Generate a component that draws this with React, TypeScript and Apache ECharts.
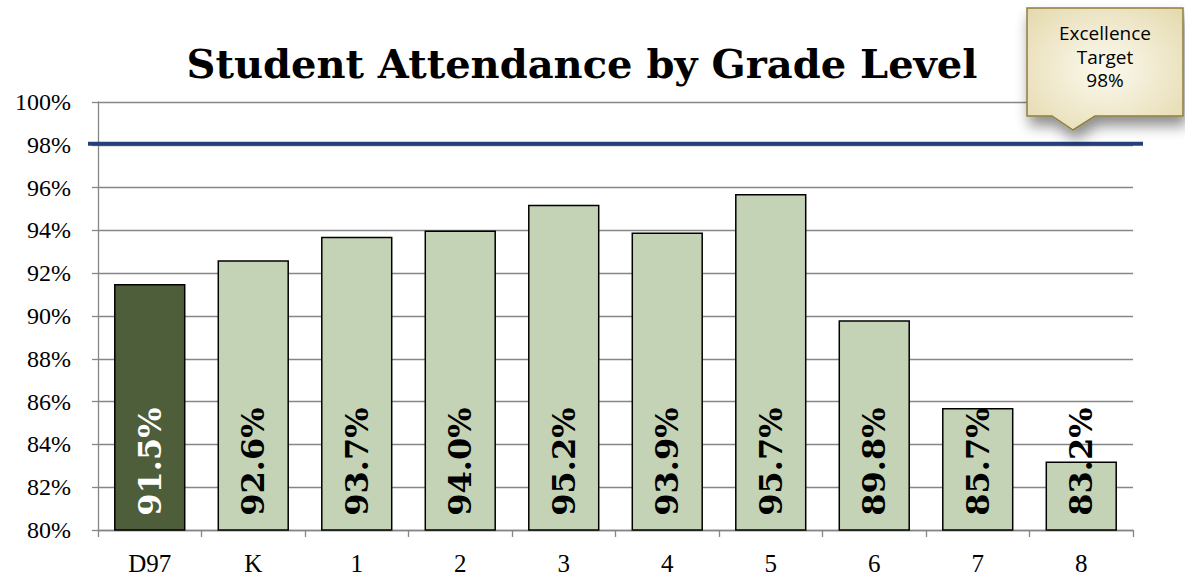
import React, { useEffect, useRef } from "react";
import * as echarts from "echarts";

const categories = ["D97", "K", "1", "2", "3", "4", "5", "6", "7", "8"];
const attendance = [91.5, 92.6, 93.7, 94.0, 95.2, 93.9, 95.7, 89.8, 85.7, 83.2];
const targetValue = 98;
const titleText = "Student Attendance by Grade Level";
const calloutLines = ["Excellence", "Target", `${targetValue}%`];

export default function App() {
  const ref = useRef<HTMLDivElement>(null);
  useEffect(() => {
    if (!ref.current) return;
    const chart = echarts.init(ref.current, null, { renderer: "svg" });
    const axisGray = "#868686";
    chart.setOption({
      animation: false,
      backgroundColor: "#ffffff",
      grid: { left: 98, right: 52, top: 102, bottom: 50, containLabel: false },
      xAxis: {
        type: "category",
        data: categories,
        axisLine: { lineStyle: { color: axisGray, width: 1.3 } },
        axisTick: { show: true, length: 7, lineStyle: { color: axisGray, width: 1.3 } },
        axisLabel: {
          fontFamily: "Liberation Serif",
          fontSize: 25,
          color: "#000",
          margin: 21,
        },
      },
      yAxis: {
        type: "value",
        min: 80,
        max: 100,
        interval: 2,
        axisLine: { show: true, lineStyle: { color: axisGray, width: 1.3 } },
        axisTick: { show: true, length: 6, lineStyle: { color: axisGray, width: 1.3 } },
        splitLine: { lineStyle: { color: axisGray, width: 1.3 } },
        axisLabel: {
          formatter: "{value}%",
          fontFamily: "Liberation Serif",
          fontSize: 24,
          color: "#000",
          margin: 27,
        },
      },
      series: [
        {
          type: "bar",
          barCategoryGap: "31%",
          data: attendance.map((v, i) => ({
            value: v,
            itemStyle: { color: i === 0 ? "#4e5d3a" : "#c4d3b6" },
            label: { color: i === 0 ? "#ffffff" : "#000000" },
          })),
          itemStyle: { borderColor: "#000", borderWidth: 1.5 },
          label: {
            show: true,
            position: "insideBottom",
            rotate: 90,
            align: "left",
            verticalAlign: "middle",
            distance: 15,
            fontFamily: "DejaVu Serif",
            fontWeight: "bold",
            fontSize: 32,
            formatter: (p: any) => `${Number(p.value).toFixed(1)}%`,
          },
        },
      ],
    });

    const ty = chart.convertToPixel({ yAxisIndex: 0 }, targetValue) as number;

    chart.setOption({
      graphic: [
        {
          type: "text",
          id: "title",
          x: 582,
          y: 63,
          style: {
            text: titleText,
            font: "bold 40px 'DejaVu Serif'",
            fill: "#000",
            textAlign: "center",
            textVerticalAlign: "middle",
          },
        },
        {
          type: "line",
          id: "target",
          z: 10,
          shape: { x1: 88, y1: ty - 1, x2: 1143, y2: ty - 1 },
          style: { stroke: "#22407a", lineWidth: 4 },
        },
        {
          type: "polygon",
          id: "callout",
          z: 20,
          shape: {
            points: [
              [1027, 8],
              [1183, 8],
              [1183, 116],
              [1095, 116],
              [1073, 130],
              [1052, 116],
              [1027, 116],
            ],
          },
          style: {
            fill: {
              type: "radial",
              x: 0.5,
              y: 0.5,
              r: 0.7,
              colorStops: [
                { offset: 0, color: "#fcfaef" },
                { offset: 1, color: "#e4d9ad" },
              ],
            },
            stroke: "#8f7d40",
            lineWidth: 1.5,
            shadowBlur: 14,
            shadowOffsetX: 3,
            shadowOffsetY: 9,
            shadowColor: "rgba(0,0,0,0.45)",
          },
        },
        ...calloutLines.map((t, i) => ({
          type: "text",
          id: "callout-" + i,
          z: 21,
          x: 1105,
          y: 33 + i * 23.5,
          style: {
            text: t,
            font: "19px 'Open Sans'",
            fill: "#000",
            textAlign: "center",
            textVerticalAlign: "middle",
          },
        })),
      ],
    });
    return () => chart.dispose();
  }, []);
  return (
    <div
      ref={ref}
      style={{ position: "fixed", left: 0, top: 0, width: 1185, height: 580 }}
    />
  );
}
